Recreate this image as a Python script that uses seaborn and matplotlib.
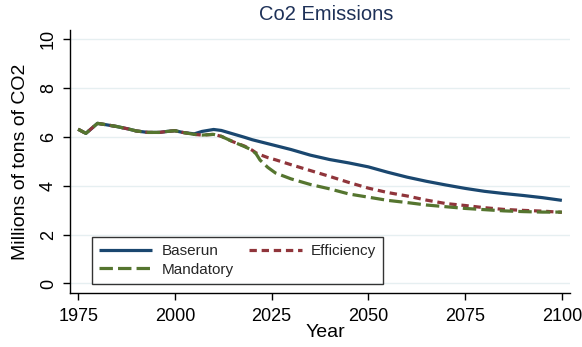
import numpy as np
import pandas as pd
import matplotlib
matplotlib.use("Agg")
import matplotlib.pyplot as plt
import seaborn as sns

# Model years and projected CO2 emissions (millions of tons) per scenario
years = [1975, 1977, 1980, 1982, 1985, 1988, 1990, 1993, 1996, 1998, 2000,
         2002, 2005, 2007, 2010, 2012, 2015, 2018, 2020, 2021, 2022, 2024,
         2026, 2030, 2035, 2040, 2045, 2050, 2055, 2060, 2065, 2070, 2075,
         2080, 2085, 2090, 2095, 2100]

baserun = [6.31, 6.14, 6.55, 6.50, 6.42, 6.32, 6.24, 6.18, 6.18, 6.22, 6.25,
           6.18, 6.12, 6.22, 6.30, 6.26, 6.12, 5.98, 5.88, 5.84, 5.80, 5.72,
           5.64, 5.48, 5.25, 5.07, 4.93, 4.77, 4.55, 4.35, 4.18, 4.03, 3.89,
           3.77, 3.68, 3.60, 3.51, 3.40]

efficiency = [6.31, 6.14, 6.55, 6.50, 6.42, 6.32, 6.24, 6.18, 6.18, 6.22, 6.25,
              6.18, 6.10, 6.07, 6.10, 6.02, 5.80, 5.62, 5.45, 5.34, 5.27, 5.15,
              5.06, 4.86, 4.62, 4.38, 4.13, 3.90, 3.72, 3.58, 3.41, 3.27, 3.19,
              3.10, 3.03, 2.99, 2.96, 2.91]

mandatory = [6.31, 6.14, 6.55, 6.50, 6.42, 6.32, 6.24, 6.18, 6.18, 6.22, 6.25,
             6.18, 6.10, 6.07, 6.10, 6.02, 5.80, 5.60, 5.45, 5.30, 5.05, 4.75,
             4.52, 4.28, 4.05, 3.87, 3.66, 3.53, 3.40, 3.31, 3.21, 3.14, 3.07,
             3.02, 2.97, 2.94, 2.92, 2.92]

scenarios = ["Baserun", "Efficiency", "Mandatory"]
colors = {"Baserun": "#1a476f", "Efficiency": "#90353b", "Mandatory": "#55752f"}
dash_styles = {"Baserun": "", "Efficiency": (2.3, 1.5), "Mandatory": (4.2, 1.6)}

x_ticks = [1975, 2000, 2025, 2050, 2075, 2100]
y_ticks = [0, 2, 4, 6, 8, 10]

df = pd.DataFrame({
    "Year": years * 3,
    "Emissions": baserun + efficiency + mandatory,
    "Scenario": ["Baserun"] * len(years) + ["Efficiency"] * len(years)
                + ["Mandatory"] * len(years),
})

sns.set_theme(style="white")
plt.rcParams["font.family"] = ["Liberation Sans", "DejaVu Sans"]

fig = plt.figure(figsize=(5.82, 3.47), dpi=100)
ax = fig.add_axes([70 / 582, 1 - 293 / 347, 500 / 582, 263 / 347])

sns.lineplot(data=df, x="Year", y="Emissions", hue="Scenario", style="Scenario",
             hue_order=scenarios, style_order=scenarios, palette=colors,
             dashes=dash_styles, linewidth=2.3, ax=ax, legend=False)

for line in ax.lines:
    line.set_solid_capstyle("butt")
    line.set_dash_capstyle("butt")

ax.set_xlim(1972.9, 2102.1)
ax.set_ylim(-0.39, 10.37)
ax.set_xticks(x_ticks)
ax.set_yticks(y_ticks)
ax.set_yticklabels([str(v) for v in y_ticks], rotation=90, va="center")

for y in y_ticks:
    ax.axhline(y, color="#e6eff1", linewidth=1.0, zorder=0)

for side in ["top", "right"]:
    ax.spines[side].set_visible(False)
for side in ["left", "bottom"]:
    ax.spines[side].set_color("black")
    ax.spines[side].set_linewidth(1.0)

ax.tick_params(axis="both", which="major", direction="out", length=5,
               width=1.0, color="black", labelsize=13, labelcolor="black",
               left=True, bottom=True)
ax.tick_params(axis="x", pad=6)
ax.tick_params(axis="y", pad=4.5)

ax.set_xlabel("Year", fontsize=14, color="black")
ax.set_ylabel("Millions of tons of CO2", fontsize=14, color="black")
ax.xaxis.set_label_coords(0.51, -0.118)
ax.yaxis.set_label_coords(-0.082, 0.5)
ax.set_title("Co2 Emissions", fontsize=14.5, color="#1e3158", x=0.512, pad=7)

# Legend: first column Baserun / Mandatory, second column Efficiency
handles = {s: l for s, l in zip(scenarios, ax.lines)}
order = ["Baserun", "Mandatory", "Efficiency"]
leg = ax.legend([handles[s] for s in order], order, ncol=2,
                loc="lower left", bbox_to_anchor=(0.044, 0.034),
                borderaxespad=0, fancybox=False, frameon=True,
                edgecolor="black", fontsize=11, handlelength=3.47,
                handletextpad=0.59, columnspacing=1.0, labelspacing=0.3,
                borderpad=0.48)
leg.get_frame().set_linewidth(1.0)

fig.savefig("out.png", dpi=100)
